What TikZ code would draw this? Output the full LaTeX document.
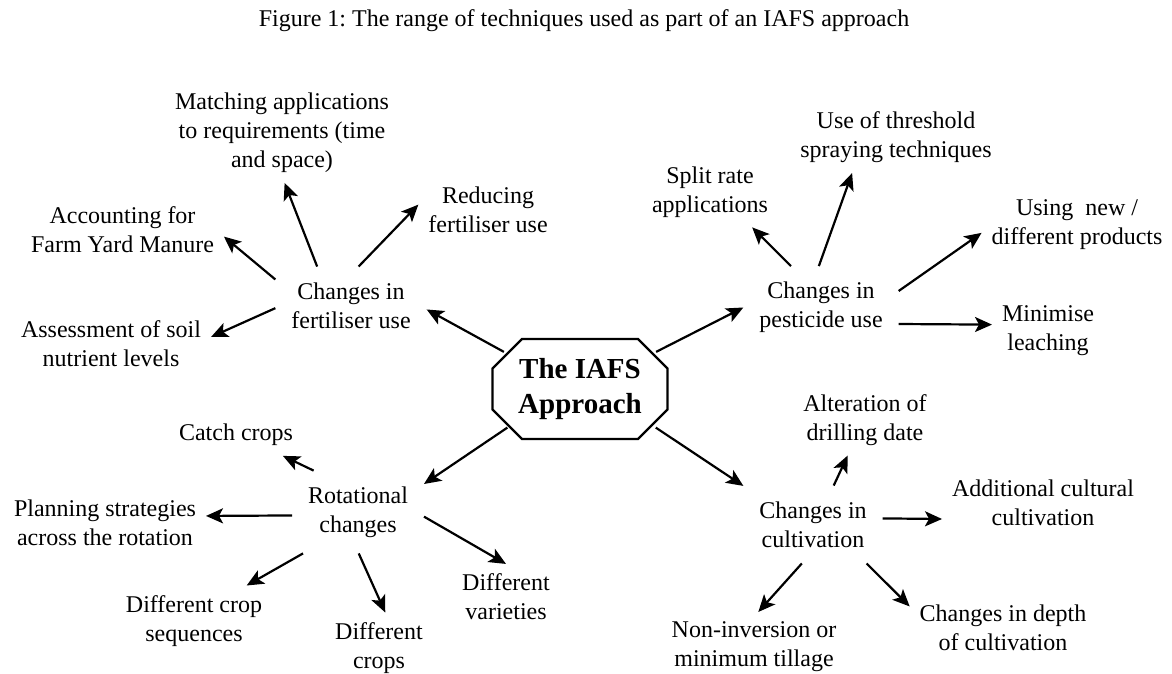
\documentclass[tikz,border=0pt]{standalone}
\usepackage{fontspec}
\setmainfont{Liberation Serif}
\frenchspacing
\usetikzlibrary{arrows.meta,calc}
\tikzset{
  txt/.style={align=center, inner sep=2pt, outer sep=3pt, font=\fontsize{12}{14.5}\selectfont},
  branch/.style={txt, outer sep=6pt},
}
\begin{document}
\begin{tikzpicture}[x=0.5pt, y=-0.5pt, >={Stealth[length=8.5pt,width=7.5pt,inset=2pt]}, line width=1.1pt]
\useasboundingbox (0,0) rectangle (1172,674);
\node[txt] (title) at (584,21) {Figure 1: The range of techniques used as part of an IAFS approach};

\node[align=center, font=\fontsize{14.5}{17.5}\selectfont\bfseries, minimum width=75pt, minimum height=37.5pt, inner sep=0pt] (hub) at (580,389) {The IAFS\\Approach};
\draw ($(hub)+(-58,-50)$) -- ($(hub)+(58,-50)$) -- ($(hub)+(87.5,-20.5)$) -- ($(hub)+(87.5,20.5)$)
   -- ($(hub)+(58,50)$) -- ($(hub)+(-58,50)$) -- ($(hub)+(-87.5,20.5)$) -- ($(hub)+(-87.5,-20.5)$) -- cycle;

\node[branch] (fert) at (351,305.5) {Changes in\\fertiliser use};
\node[txt] (fym) at (122.5,229.5) {Accounting for\\Farm Yard Manure};
\node[txt] (match) at (282,133) {Matching applications\\to requirements (time\\and space)};
\node[txt] (reduce) at (488,209.5) {Reducing\\fertiliser use};
\node[txt] (soil) at (111,344) {Assessment of soil\\nutrient levels};

\node[branch] (pest) at (821,307.5) {Changes in\\pesticide use};
\node[txt] (split) at (710,192) {Split rate\\applications};
\node[txt] (thresh) at (896,137.5) {Use of threshold\\spraying techniques};
\node[txt] (newprod) at (1077,224.5) {Using~ new /\\different products};
\node[txt] (leach) at (1048,330.5) {Minimise\\leaching};

\node[branch] (rot) at (358,512) {Rotational\\changes};
\node[txt] (catch) at (236,435) {Catch crops};
\node[txt] (plan) at (105,523) {Planning strategies\\across the rotation};
\node[txt] (seq) at (194,621) {Different crop\\sequences};
\node[txt] (crops) at (379,648) {Different\\crops};
\node[txt] (var) at (506,597) {Different\\varieties};

\node[branch] (cult) at (813,524.5) {Changes in\\cultivation};
\node[txt] (drill) at (865,420) {Alteration of\\drilling date};
\node[txt] (extra) at (1043,503) {Additional cultural\\cultivation};
\node[txt] (tillage) at (754,647) {Non-inversion or\\minimum tillage};
\node[txt] (depth) at (1003,628) {Changes in depth\\of cultivation};

\draw[->] (hub.154) -- (fert.-3);
\draw[->] (fert.161) -- (fym.-4);
\draw[->] (fert.131) -- (match.-87);
\draw[->] (fert.79) -- (reduce.176);
\draw[->] (fert.182) -- (soil.4);
\draw[->] (hub.26) -- (pest.180);
\draw[->] (pest.126) -- (split.-40);
\draw[->] (pest.93) -- (thresh.219);
\draw[->] (pest.12) -- (newprod.185);
\draw[->] (pest.-12) -- (leach.174);
\draw[->] (hub.208) -- (rot.23);
\draw[->] (rot.137) -- (catch.-24);
\draw[->] (rot.183) -- (plan.4);
\draw[->] (rot.217) -- (seq.34);
\draw[->] (rot.-89) -- (crops.80);
\draw[->] (rot.-4) -- (var.90);
\draw[->] (hub.-27) -- (cult.151);
\draw[->] (cult.62) -- (drill.244);
\draw[->] (cult.5) -- (extra.189);
\draw[->] (cult.254) -- (tillage.83);
\draw[->] (cult.-36) -- (depth.167);
\end{tikzpicture}
\end{document}
